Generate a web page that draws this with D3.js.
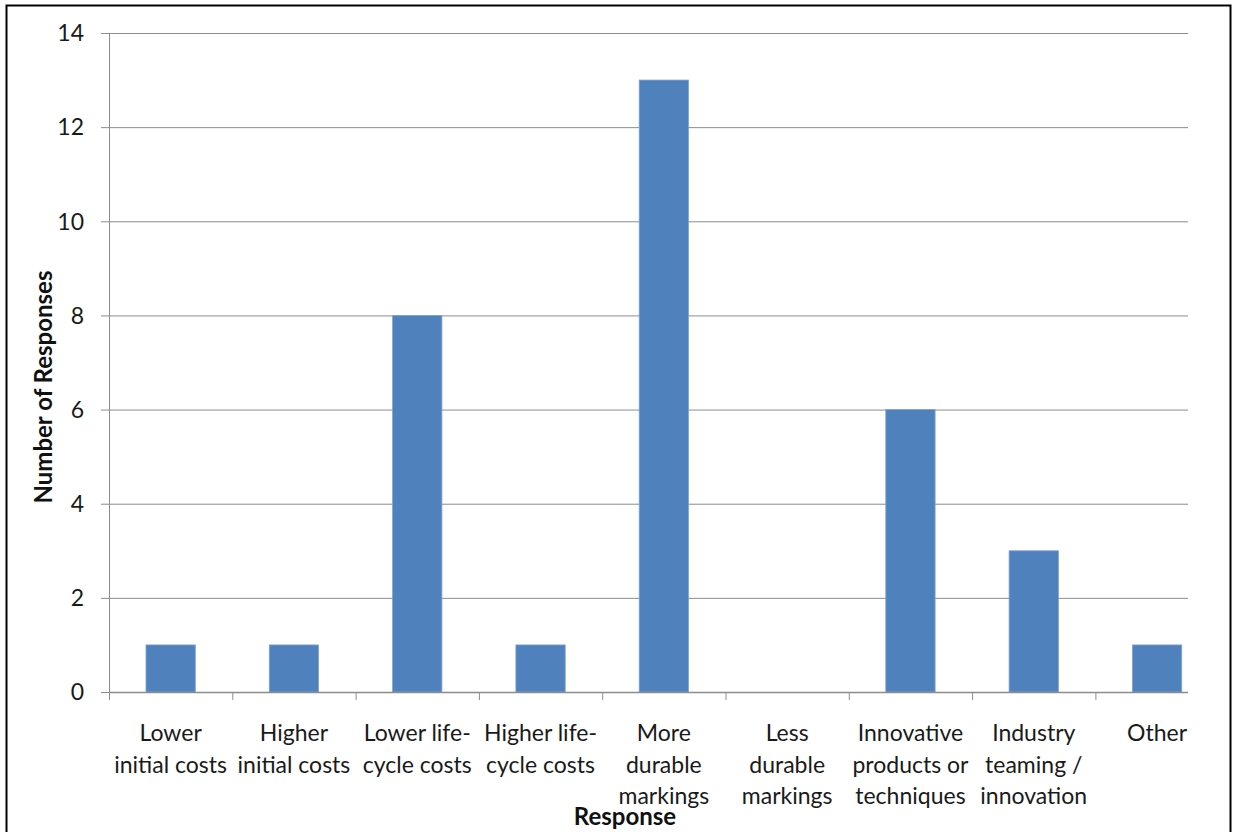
<!DOCTYPE html>
<html><head><meta charset="utf-8">
<script src="https://cdn.jsdelivr.net/npm/d3@7"></script>
<style>body{margin:0;background:#fff}</style>
</head><body>
<svg id="c" width="1233" height="832"></svg>
<script>
const categories = [
  ["Lower","initial costs"],
  ["Higher","initial costs"],
  ["Lower life-","cycle costs"],
  ["Higher life-","cycle costs"],
  ["More","durable","markings"],
  ["Less","durable","markings"],
  ["Innovative","products or","techniques"],
  ["Industry","teaming /","innovation"],
  ["Other"]
];
const values = [1,1,8,1,13,0,6,3,1];
const yTicks = [0,2,4,6,8,10,12,14];

const svg = d3.select("#c");
const font = "Lato, 'Open Sans', sans-serif";
svg.append("rect").attr("x",6.5).attr("y",5.5).attr("width",1224).attr("height",840)
  .attr("fill","#fff").attr("stroke","#000").attr("stroke-width",2);

const m = {l:109, t:33, r:1188, b:692};
const step = 123.3;
const xc = d3.scaleBand().domain(d3.range(categories.length)).range([m.l, m.l + step*categories.length]);
const bw = xc.bandwidth()*0.4;
const y = d3.scaleLinear().domain([0,14]).range([m.b,m.t]);

// gridlines
svg.append("g").selectAll("line").data(yTicks).join("line")
  .attr("x1",101).attr("x2",m.r).attr("y1",d=>y(d)+0.5).attr("y2",d=>y(d)+0.5)
  .attr("stroke","#8c8c8c").attr("stroke-width",1);
// y axis line
svg.append("line").attr("x1",m.l+0.5).attr("x2",m.l+0.5).attr("y1",m.t).attr("y2",m.b)
  .attr("stroke","#8c8c8c");
// y labels
svg.append("g").selectAll("text").data(yTicks).join("text")
  .attr("x",84).attr("y",d=>y(d)).attr("dy","0.36em").attr("text-anchor","end")
  .attr("font-family",font).attr("font-size",23).attr("fill","#1a1a1a").text(d=>d);

// bars
svg.append("g").selectAll("rect").data(values).join("rect")
  .attr("x",(d,i)=>xc(i)+(xc.bandwidth()-bw)/2).attr("width",bw)
  .attr("y",d=>y(d)).attr("height",d=>y(0)-y(d))
  .attr("fill","#4f81bd").attr("stroke","#7fa3d3").attr("stroke-width",0.8);

// x axis line + ticks
svg.append("line").attr("x1",m.l).attr("x2",m.r).attr("y1",m.b+0.5).attr("y2",m.b+0.5)
  .attr("stroke","#8c8c8c").attr("stroke-width",1.5);
svg.append("g").selectAll("line").data(d3.range(categories.length+1).filter(k=>m.l+k*step<=m.r)).join("line")
  .attr("x1",d=>m.l+d*step+0.5).attr("x2",d=>m.l+d*step+0.5)
  .attr("y1",m.b).attr("y2",m.b+8).attr("stroke","#8c8c8c");

// category labels
const lab = svg.append("g").selectAll("text").data(categories).join("text")
  .attr("text-anchor","middle").attr("font-family",font).attr("font-size",23).attr("fill","#1a1a1a");
lab.each(function(d,i){
  d3.select(this).selectAll("tspan").data(d).join("tspan")
    .attr("x",xc(i)+xc.bandwidth()/2).attr("y",(t,j)=>741+j*31.5).text(t=>t);
});

// axis titles
svg.append("text").attr("x",625).attr("y",825).attr("text-anchor","middle")
  .attr("font-family",font).attr("font-size",24).attr("font-weight","bold").attr("fill","#111").text("Response");
svg.append("text").attr("transform","translate(52,387) rotate(-90)").attr("text-anchor","middle")
  .attr("font-family",font).attr("font-size",24).attr("font-weight","bold").attr("fill","#111").text("Number of Responses");
</script>
</body></html>
